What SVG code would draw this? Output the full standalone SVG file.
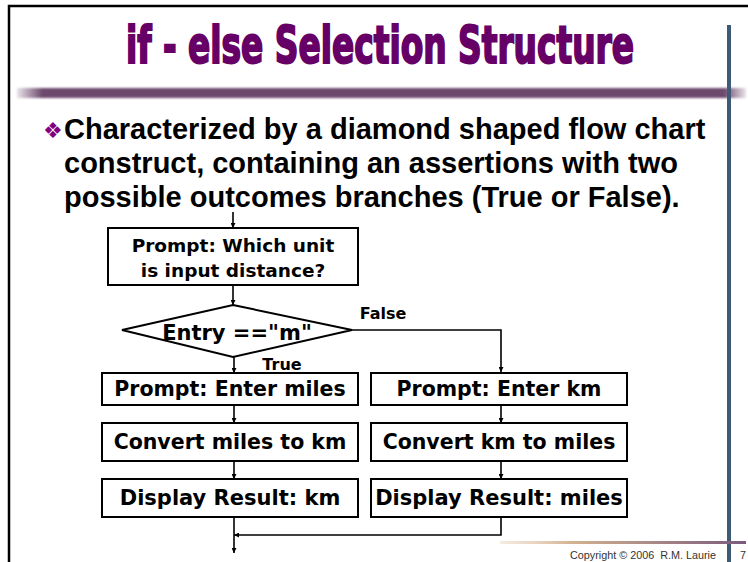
<svg xmlns="http://www.w3.org/2000/svg" width="748" height="562" viewBox="0 0 748 562">
  <defs>
    <style>
      .box { fill: #ffffff; stroke: #000000; stroke-width: 2; }
      .lbl { font-family: "DejaVu Sans", Verdana, sans-serif; font-weight: bold; fill: #000000; text-anchor: middle; }
      .wire { fill: none; stroke: #000000; stroke-width: 1.6; }
      .body { font-family: "Liberation Sans", Arial, sans-serif; font-weight: bold; font-size: 29px; fill: #000000; }
    </style>
    <marker id="ah" viewBox="0 0 10 10" refX="10" refY="5" markerWidth="5" markerHeight="5" markerUnits="userSpaceOnUse" orient="auto">
      <path d="M0,0 L10,5 L0,10 z" fill="#000000"/>
    </marker>
    <linearGradient id="barGrad" x1="0" y1="0" x2="1" y2="0">
      <stop offset="0" stop-color="#6e4a6e" stop-opacity="0.15"/>
      <stop offset="0.035" stop-color="#6e4a6e" stop-opacity="1"/>
      <stop offset="0.97" stop-color="#6e4a6e" stop-opacity="1"/>
      <stop offset="1" stop-color="#6e4a6e" stop-opacity="0.15"/>
    </linearGradient>
    <linearGradient id="footGrad" x1="0" y1="0" x2="1" y2="0">
      <stop offset="0" stop-color="#e6cdb4" stop-opacity="0.4"/>
      <stop offset="0.3" stop-color="#d2b090"/>
      <stop offset="1" stop-color="#7a5a7c"/>
    </linearGradient>
    <filter id="soft" x="-5%" y="-50%" width="110%" height="200%">
      <feGaussianBlur stdDeviation="0.8"/>
    </filter>
  </defs>

  <rect width="748" height="562" fill="#ffffff"/>

  <!-- slide frame -->
  <path d="M9,562 V6 H748" fill="none" stroke="#000000" stroke-width="2.5"/>

  <!-- title and rule -->
  <text x="380" y="63" text-anchor="middle" font-family="'Liberation Sans Narrow','DejaVu Sans Condensed','Liberation Sans',sans-serif" font-weight="bold" font-size="51" textLength="508" lengthAdjust="spacingAndGlyphs" fill="#660066" stroke="#660066" stroke-width="2">if - else Selection Structure</text>
  <rect x="17" y="88" width="729" height="10" fill="url(#barGrad)" filter="url(#soft)"/>
  <rect x="727" y="25" width="4" height="537" fill="#3f5a75"/>

  <!-- bullet text -->
  <text x="43" y="138" font-family="'DejaVu Sans',sans-serif" font-size="22" fill="#800080">❖</text>
  <text class="body" x="64" y="139">Characterized by a diamond shaped flow chart</text>
  <text class="body" x="64" y="173">construct, containing an assertions with two</text>
  <text class="body" x="64" y="207">possible outcomes branches (True or False).</text>

  <!-- connectors -->
  <g id="connectors">
    <path class="wire" d="M233,212 V228" marker-end="url(#ah)"/>
    <path class="wire" d="M233,285 V305" marker-end="url(#ah)"/>
    <path class="wire" d="M234,357 V373" marker-end="url(#ah)"/>
    <path class="wire" d="M352,330 H501 V372" marker-end="url(#ah)"/>
    <path class="wire" d="M234,405 V423" marker-end="url(#ah)"/>
    <path class="wire" d="M234,461 V479" marker-end="url(#ah)"/>
    <path class="wire" d="M234,517 V553" marker-end="url(#ah)"/>
    <path class="wire" d="M501,405 V423" marker-end="url(#ah)"/>
    <path class="wire" d="M501,461 V479" marker-end="url(#ah)"/>
    <path class="wire" d="M501,517 V535 H234" marker-end="url(#ah)"/>
    <text class="lbl" x="383" y="319" font-size="16">False</text>
    <text class="lbl" x="282" y="370" font-size="16">True</text>
  </g>

  <!-- nodes -->
  <g id="ask-unit">
    <rect class="box" x="108" y="228" width="250" height="57"/>
    <text class="lbl" x="233" y="252" font-size="18.5">Prompt: Which unit</text>
    <text class="lbl" x="233" y="277" font-size="18.5">is input distance?</text>
  </g>
  <g id="check-entry">
    <polygon class="box" points="233,305 352,330 233,357 122,330"/>
    <text class="lbl" x="237" y="340" font-size="21">Entry =="m"</text>
  </g>
  <g id="enter-miles">
    <rect class="box" x="102" y="373" width="256" height="32"/>
    <text class="lbl" x="230" y="396" font-size="20.5">Prompt: Enter miles</text>
  </g>
  <g id="enter-km">
    <rect class="box" x="371" y="373" width="256" height="32"/>
    <text class="lbl" x="499" y="396" font-size="20.5">Prompt: Enter km</text>
  </g>
  <g id="miles-to-km">
    <rect class="box" x="102" y="423" width="256" height="38"/>
    <text class="lbl" x="230" y="449" font-size="20.5">Convert miles to km</text>
  </g>
  <g id="km-to-miles">
    <rect class="box" x="371" y="423" width="256" height="38"/>
    <text class="lbl" x="499" y="449" font-size="20.5">Convert km to miles</text>
  </g>
  <g id="show-km">
    <rect class="box" x="102" y="479" width="256" height="38"/>
    <text class="lbl" x="230" y="505" font-size="21">Display Result: km</text>
  </g>
  <g id="show-miles">
    <rect class="box" x="371" y="479" width="256" height="38"/>
    <text class="lbl" x="499" y="505" font-size="21">Display Result: miles</text>
  </g>

  <!-- footer -->
  <rect x="500" y="541" width="246" height="3" fill="url(#footGrad)"/>
  <text x="716" y="559" text-anchor="end" font-family="'Liberation Sans',Arial,sans-serif" font-size="10.8" fill="#333333">Copyright © 2006&#160; R.M. Laurie</text>
  <text x="740" y="559" font-family="'Liberation Sans',Arial,sans-serif" font-size="10.8" fill="#333333">7</text>
</svg>
